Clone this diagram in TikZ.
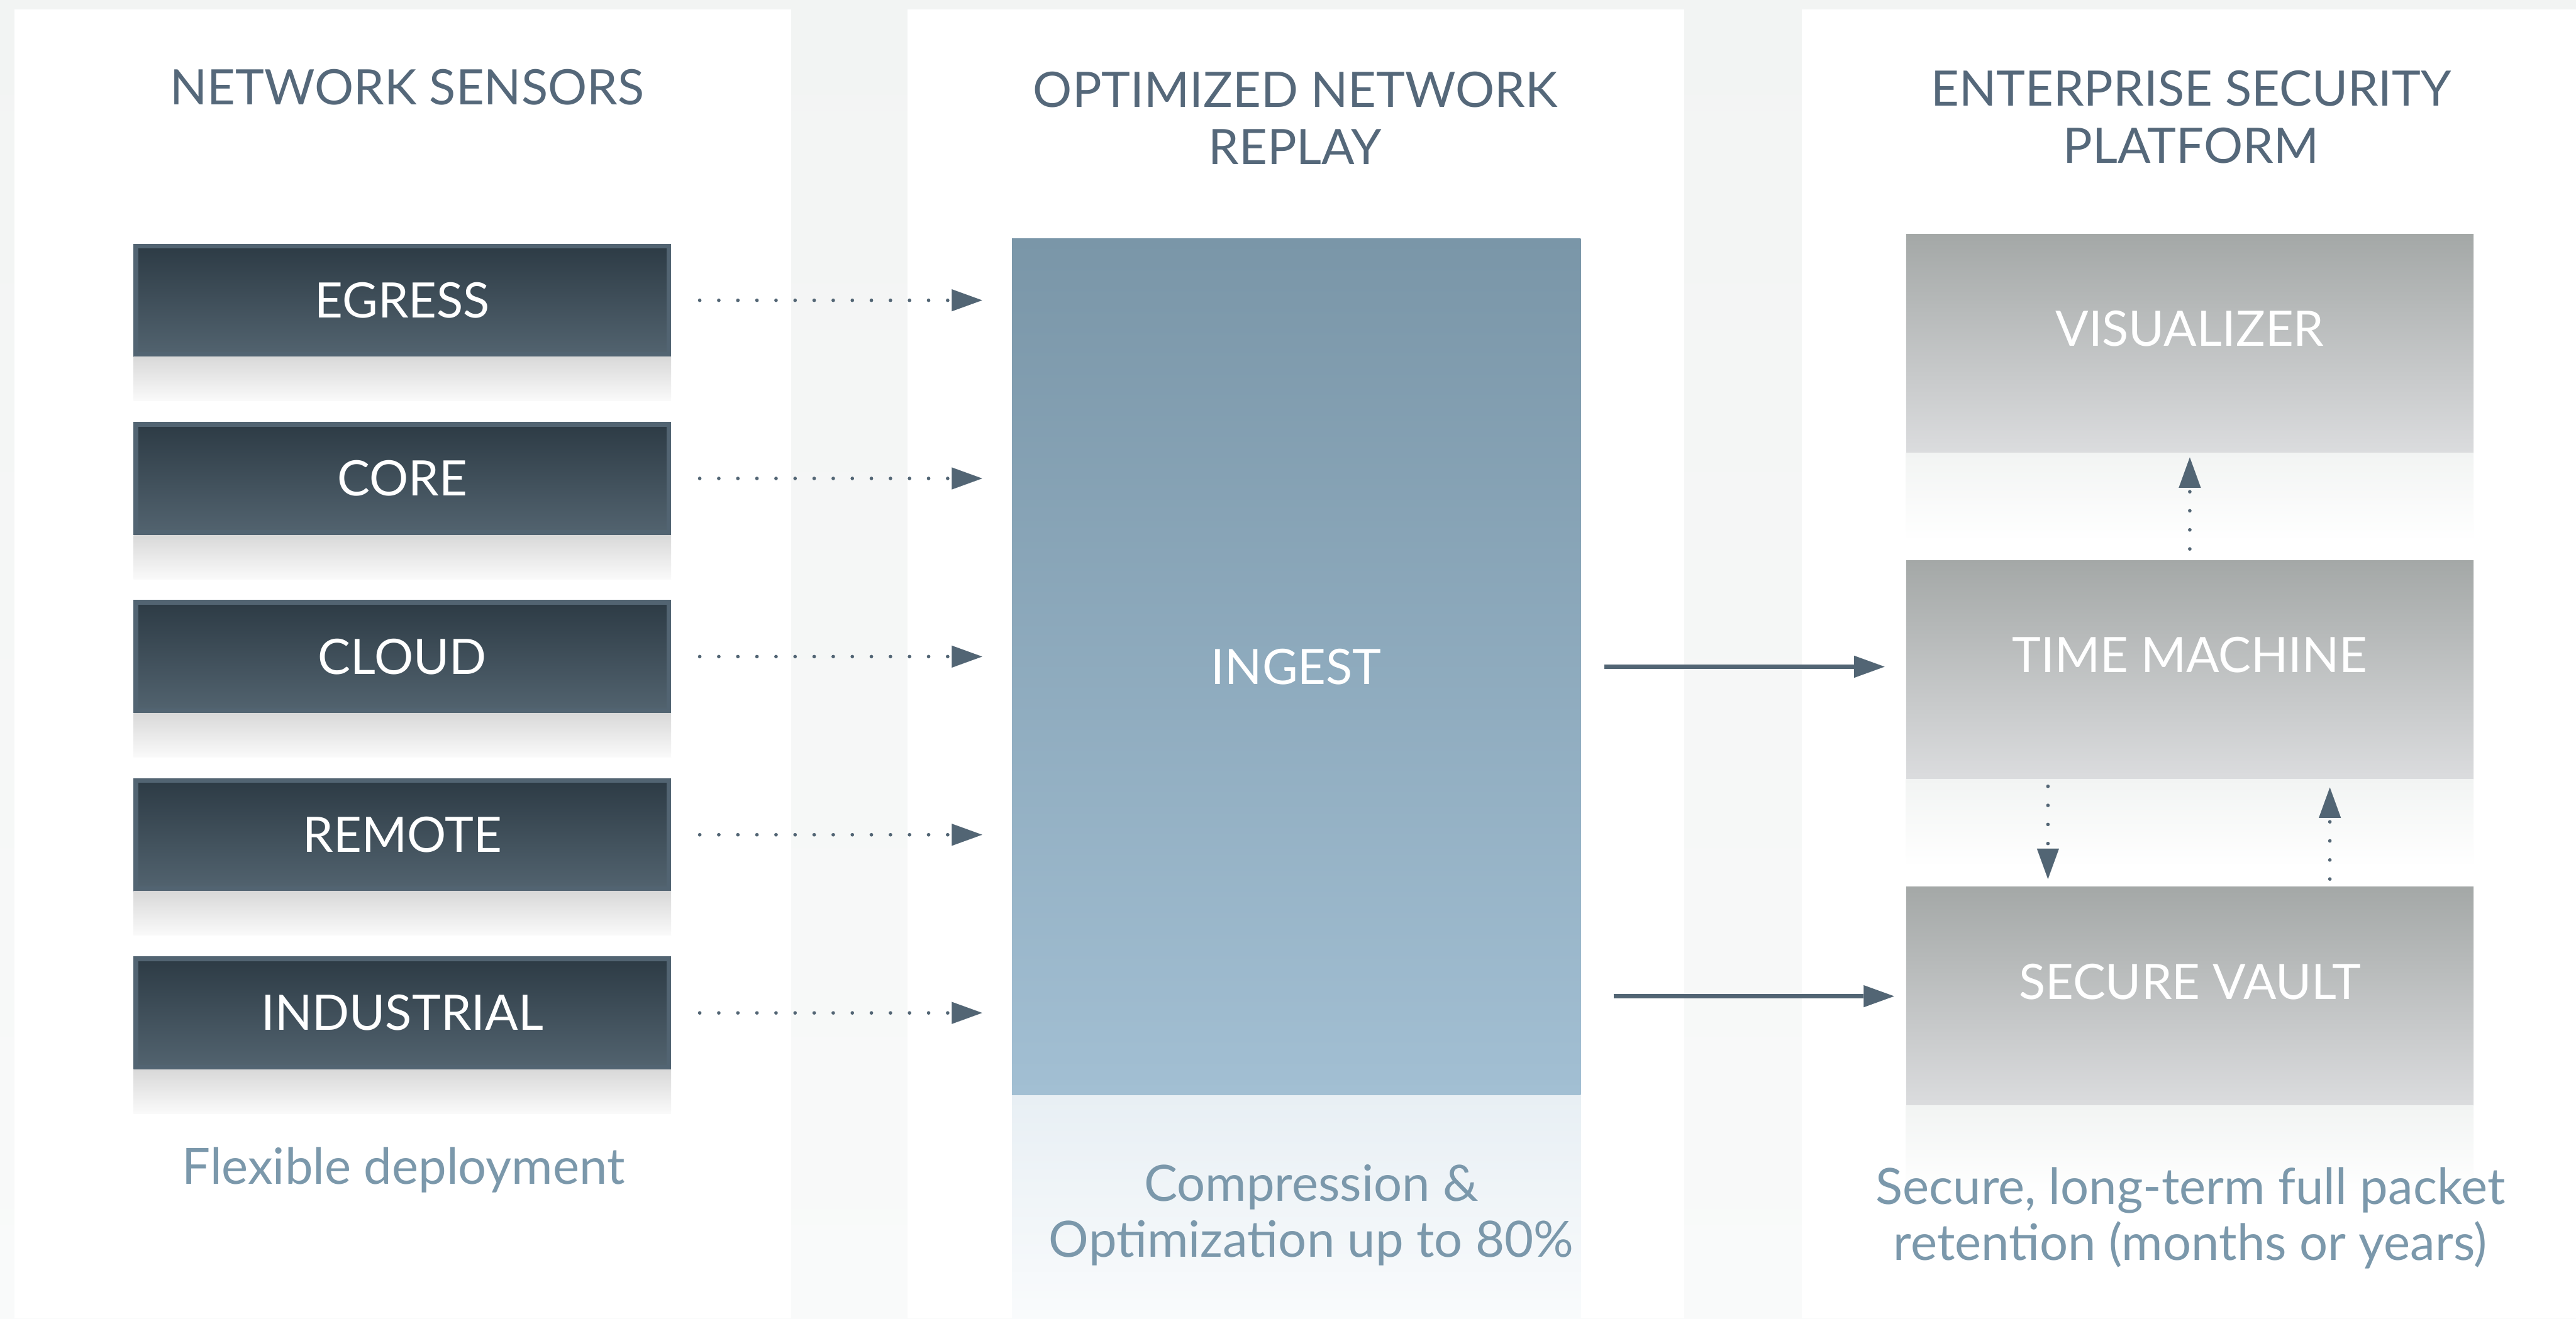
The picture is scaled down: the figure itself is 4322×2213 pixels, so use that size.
\documentclass[tikz,border=0pt]{standalone}
\usepackage{fontspec}
\setmainfont{Lato}
\usetikzlibrary{arrows.meta,calc}

\definecolor{bggray}{HTML}{F2F4F3}
\definecolor{bgfade}{HTML}{F9FAFA}
\definecolor{titlec}{HTML}{55687A}
\definecolor{notec}{HTML}{7B98AB}
\definecolor{arrowc}{HTML}{526574}
\definecolor{sensorframe}{HTML}{526472}
\definecolor{sensortop}{HTML}{2D3B45}
\definecolor{sensorbot}{HTML}{52636F}
\definecolor{ingesttop}{HTML}{7A96A8}
\definecolor{ingestbot}{HTML}{A2BFD3}
\definecolor{greytop}{HTML}{A4A8A7}
\definecolor{greybot}{HTML}{DBDCDE}

\newcommand{\boxtext}{\fontsize{82}{96}\selectfont}
\newcommand{\headtext}{\fontsize{82}{96}\selectfont}
\newcommand{\notetext}{\fontsize{84}{94}\selectfont}

\tikzset{
  sensorbox/.style={draw=sensorframe, line width=8pt, top color=sensortop,
    bottom color=sensorbot, minimum width=894pt, minimum height=182pt,
    inner sep=0pt, text=white, font=\boxtext},
  ingestbox/.style={top color=ingesttop, bottom color=ingestbot,
    minimum width=954pt, minimum height=1438pt, inner sep=0pt,
    text=white, font=\boxtext},
  platbox/.style={top color=greytop, bottom color=greybot,
    minimum width=952pt, minimum height=367pt, inner sep=0pt},
  platlabel/.style={text=white, font=\boxtext, inner sep=0pt, anchor=base},
  heading/.style={text=titlec, font=\headtext, align=center, inner sep=0pt, anchor=base},
  note/.style={text=notec, font=\notetext, align=center, inner sep=0pt, anchor=base},
  dotarrow/.style={draw=arrowc, line width=6pt, line cap=round,
    dash pattern=on 0pt off 32pt,
    -{Triangle[length=51pt,width=37pt,line width=0.1pt]}},
  solidarrow/.style={draw=arrowc, line width=7pt,
    -{Triangle[length=51pt,width=37pt,line width=0.1pt]}},
}

\begin{document}
\begin{tikzpicture}[x=1pt,y=-1pt]
\useasboundingbox (0,0) rectangle (4322,2213);

% backdrop and the three columns
\shade[top color=bggray, bottom color=bgfade] (0,0) rectangle (4322,2213);
\fill[white] (24,16) rectangle (1327,2213);
\fill[white] (1523,16) rectangle (2826,2213);
\fill[white] (3023,16) rectangle (4322,2213);

% column headings (base anchor sits on the last line)
\node[heading] (h1) at (683,176) {NETWORK SENSORS};
\node[heading] (h2) at (2173,276) {OPTIMIZED NETWORK\\REPLAY};
\node[heading] (h3) at (3676,274) {ENTERPRISE SECURITY\\PLATFORM};

% sensors with their reflections
\foreach \nm/\txt/\yy in {egress/EGRESS/504, core/CORE/803, cloud/CLOUD/1102,
                          remote/REMOTE/1401, industrial/INDUSTRIAL/1700}{
  \node[sensorbox] (\nm) at (675,\yy) {\txt};
  \shade[top color=black!15!white, bottom color=black!2!white]
    (\nm.south west) rectangle ($(\nm.south east)+(0,74)$);
}

% ingest block
\node[ingestbox] (ingest) at (2175,1119) {INGEST};
\shade[top color=ingestbot!25!white, bottom color=ingestbot!6!white]
  (ingest.south west) rectangle ($(ingest.south east)+(0,380)$);

% platform blocks
\node[platbox] (vis) at (3674,577) {};
\node[platbox] (tm) at (3674,1124) {};
\node[platbox] (sv) at (3674,1672) {};
\foreach \nm in {vis,tm,sv}{
  \shade[top color=bggray, bottom color=white]
    (\nm.south west) rectangle ($(\nm.south east)+(0,148)$);
}
\node[platlabel] (vislabel) at ($(vis.center)+(0,4)$) {VISUALIZER};
\node[platlabel] (tmlabel) at ($(tm.center)+(0,5)$) {TIME MACHINE};
\node[platlabel] (svlabel) at ($(sv.center)+(0,5)$) {SECURE VAULT};

% notes under the columns
\node[note] (n1) at (677,1987) {Flexible deployment};
\node[note] (n2) at (2200,2110) {Compression \&\\Optimization up to 80\%};
\node[note] (n3) at (3675,2115) {Secure, long-term full packet\\retention (months or years)};

% sensor feeds
\foreach \nm in {egress,core,cloud,remote,industrial}{
  \draw[dotarrow] ($(\nm.east)+(48,0)$) -- ($(ingest.west |- \nm.east)+(-50,0)$);
}

% ingest outputs
\draw[solidarrow] ($(ingest.east)+(40,0)$) -- ($(tm.west |- ingest.east)+(-36,0)$);
\draw[solidarrow] ($(ingest.east |- sv.west)+(55,0)$) -- ($(sv.west)+(-20,0)$);

% platform links
\draw[dotarrow] ($(tm.north)+(0,-19)$) -- ($(vis.south)+(0,7)$);
\draw[dotarrow] ($(tm.south)+(-238,12)$) -- ($(sv.north)+(-238,-13)$);
\draw[dotarrow] ($(sv.north)+(235,-13)$) -- ($(tm.south)+(235,14)$);
\end{tikzpicture}
\end{document}
